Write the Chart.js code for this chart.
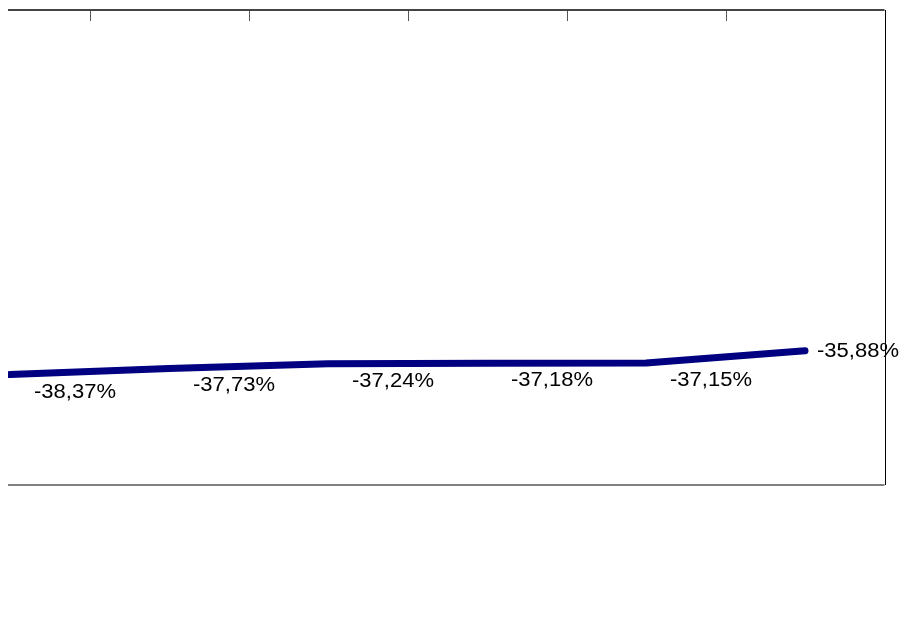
<!DOCTYPE html>
<html>
<head>
<meta charset="utf-8">
<script src="https://cdn.jsdelivr.net/npm/chart.js@4.4.1/dist/chart.umd.min.js"></script>
<style>
  html, body { margin: 0; padding: 0; background: #fff; overflow: hidden; }
  /* the chart is cropped on the left, as in the reference */
  #wrap { position: absolute; left: 8px; top: 0; width: 899px; height: 625px; overflow: hidden; }
  #c { position: absolute; left: -86px; top: 0; }
</style>
</head>
<body>
<div id="wrap"><canvas id="c" width="985" height="625" style="width:985px;height:625px"></canvas></div>
<script>
// ---- data ----
const categories = ['1', '2', '3', '4', '5', '6'];
const values = [-38.37, -37.73, -37.24, -37.18, -37.15, -35.88];
const valueLabels = ['-38,37%', '-37,73%', '-37,24%', '-37,18%', '-37,15%', '-35,88%'];
const yMin = -50;
const yMax = 0;

// cadre + petits traits en haut (entre les catégories)
const framePlugin = {
    id: 'frame',
    afterDraw(chart) {
        const ctx = chart.ctx;
        const a = chart.chartArea;
        const x = chart.scales.x;
        ctx.save();
        // traits de graduation vers l'intérieur
        ctx.strokeStyle = '#555';
        ctx.lineWidth = 1;
        for (let i = 0; i < categories.length - 1; i++) {
            const px = Math.round(x.getPixelForValue(i + 0.5)) + 0.5;
            ctx.beginPath();
            ctx.moveTo(px, a.top);
            ctx.lineTo(px, a.top + 11);
            ctx.stroke();
        }
        // bord haut
        ctx.strokeStyle = '#444';
        ctx.lineWidth = 2;
        ctx.beginPath();
        ctx.moveTo(a.left, a.top);
        ctx.lineTo(a.right, a.top);
        ctx.stroke();
        // bord bas
        ctx.strokeStyle = '#808080';
        ctx.beginPath();
        ctx.moveTo(a.left, a.bottom);
        ctx.lineTo(a.right, a.bottom);
        ctx.stroke();
        // bord droit
        ctx.strokeStyle = '#000';
        ctx.lineWidth = 1;
        ctx.beginPath();
        ctx.moveTo(Math.round(a.right) + 0.5, a.top);
        ctx.lineTo(Math.round(a.right) + 0.5, a.bottom);
        ctx.stroke();
        ctx.restore();
    }
};

// étiquettes de valeur
const labelPlugin = {
    id: 'valueLabels',
    afterDatasetsDraw(chart) {
        const ctx = chart.ctx;
        const meta = chart.getDatasetMeta(0);
        ctx.save();
        ctx.fillStyle = '#000';
        ctx.font = '20px "Liberation Sans", Arial, sans-serif';
        meta.data.forEach((pt, i) => {
            ctx.save();
            if (i < meta.data.length - 1) {
                ctx.translate(pt.x + 65, pt.y + 23);
                ctx.textAlign = 'center';
                ctx.textBaseline = 'alphabetic';
            } else {
                ctx.translate(pt.x + 12, pt.y + 1);
                ctx.textAlign = 'left';
                ctx.textBaseline = 'middle';
            }
            ctx.scale(1.1, 1);
            ctx.fillText(valueLabels[i], 0, 0);
            ctx.restore();
        });
        ctx.restore();
    }
};

new Chart(document.getElementById('c'), {
    type: 'line',
    data: {
        labels: categories,
        datasets: [{
            data: values,
            borderColor: '#000080',
            borderWidth: 7,
            borderCapStyle: 'round',
            borderJoinStyle: 'round',
            pointRadius: 0,
            tension: 0,
            fill: false
        }]
    },
    options: {
        responsive: false,
        animation: false,
        layout: { padding: { left: 8.5, right: 22.5, top: 10, bottom: 140 } },
        plugins: { legend: { display: false }, tooltip: { enabled: false } },
        scales: {
            x: { type: 'category', offset: true, display: false },
            y: { min: yMin, max: yMax, display: false }
        }
    },
    plugins: [labelPlugin, framePlugin]
});
</script>
</body>
</html>
